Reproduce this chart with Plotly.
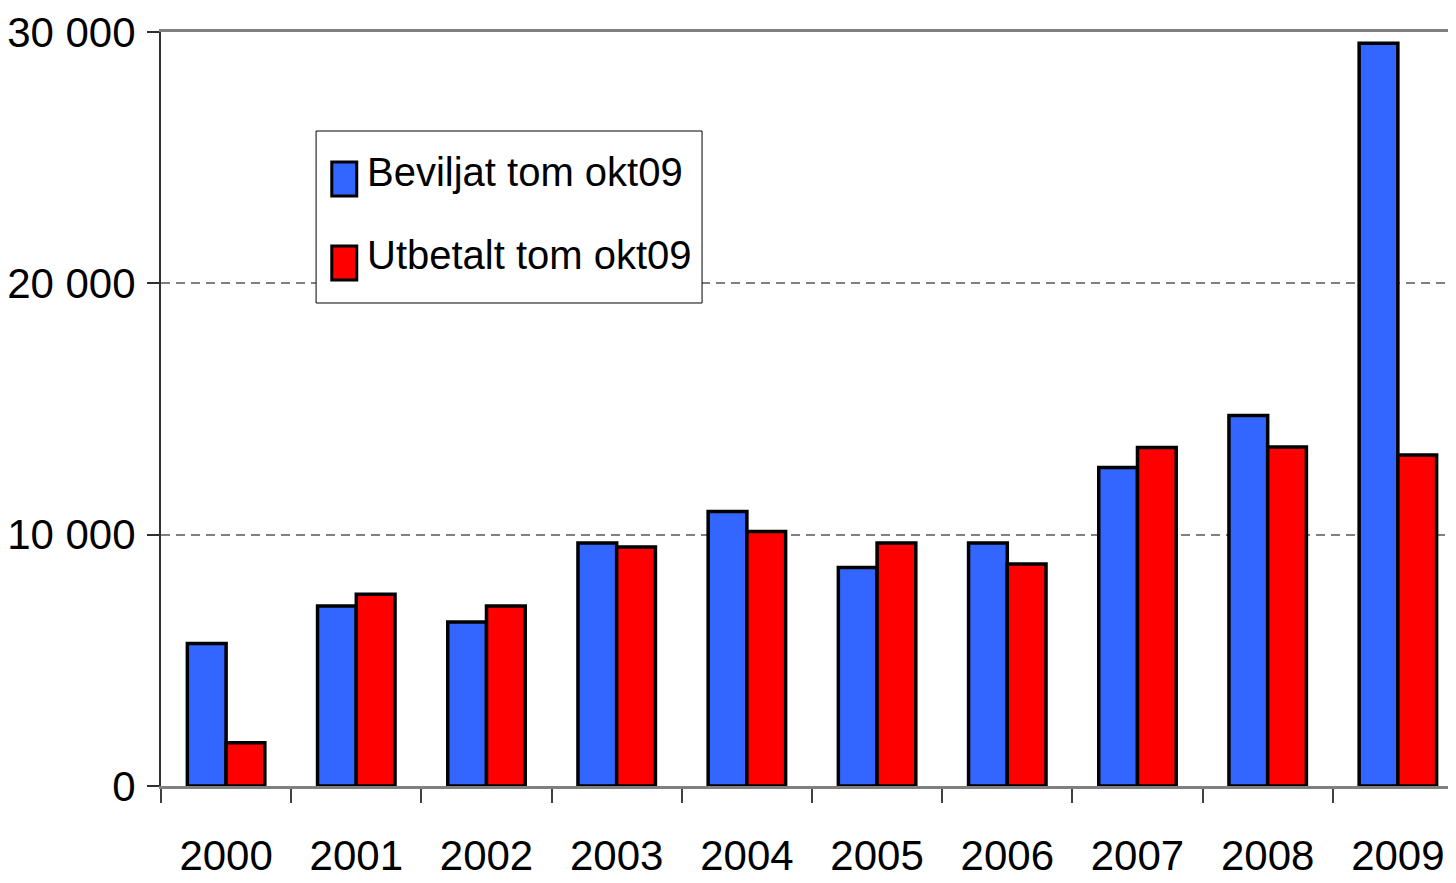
import plotly.graph_objects as go

years = ["2000", "2001", "2002", "2003", "2004", "2005", "2006", "2007", "2008", "2009"]
beviljat = [5670, 7160, 6530, 9670, 10920, 8690, 9670, 12670, 14740, 29550]
utbetalt = [1720, 7630, 7160, 9510, 10130, 9670, 8830, 13470, 13490, 13170]
series_names = ["Beviljat tom okt09", "Utbetalt tom okt09"]
y_ticks = [0, 10000, 20000, 30000]

FONT = "Liberation Sans, Arial, sans-serif"
FS = 42
LFS = 40
BLUE = "#3366FF"
RED = "#FF0000"

fig = go.Figure()
fig.add_trace(go.Bar(x=years, y=beviljat, name=series_names[0],
                     marker=dict(color=BLUE, line=dict(color="black", width=3.5))))
fig.add_trace(go.Bar(x=years, y=utbetalt, name=series_names[1],
                     marker=dict(color=RED, line=dict(color="black", width=3.5))))

# page body has an 8px margin, so the figure is sized/offset to compensate
fig.update_layout(
    width=1440, height=867,
    margin=dict(l=153, r=0, t=24, b=89),
    paper_bgcolor="white", plot_bgcolor="white",
    barmode="group", bargap=0.405, bargroupgap=0,
    showlegend=False,
    separators=", ",
    font=dict(family=FONT, size=FS, color="black"),
)
fig.update_xaxes(
    type="category", automargin=False, range=[-0.5, 9.385],
    showline=True, linecolor="#808080", linewidth=3, mirror=True,
    ticks="outside", tickson="boundaries", ticklen=14, tickcolor="#404040", tickwidth=2,
    ticklabelstandoff=31,
    showgrid=False,
    tickfont=dict(family=FONT, size=FS, color="black"),
)
fig.update_yaxes(
    range=[0, 30000], tickvals=y_ticks, tickformat=",d", automargin=False,
    showline=True, linecolor="#303030", linewidth=2,
    ticks="outside", ticklen=12, tickcolor="#303030", tickwidth=2,
    ticklabelstandoff=3,
    showgrid=True, gridcolor="#808080", gridwidth=1.5, griddash="9px,6px",
    zeroline=False,
    tickfont=dict(family=FONT, size=FS, color="black"),
)

# custom legend box
fig.add_shape(type="rect", xref="paper", yref="paper",
              x0=0.1205, x1=0.4204, y0=0.6406, y1=0.8687,
              line=dict(color="black", width=1), fillcolor="white", layer="above")
fig.add_shape(type="rect", xref="paper", yref="paper",
              x0=0.1327, x1=0.1521, y0=0.7825, y1=0.8276,
              line=dict(color="black", width=3), fillcolor=BLUE, layer="above")
fig.add_shape(type="rect", xref="paper", yref="paper",
              x0=0.1327, x1=0.1521, y0=0.6711, y1=0.7162,
              line=dict(color="black", width=3), fillcolor=RED, layer="above")
fig.add_annotation(text=series_names[0], xref="paper", yref="paper",
                   x=0.1585, y=0.8143, xanchor="left", yanchor="middle",
                   showarrow=False, font=dict(family=FONT, size=LFS, color="black"))
fig.add_annotation(text=series_names[1], xref="paper", yref="paper",
                   x=0.1585, y=0.7042, xanchor="left", yanchor="middle",
                   showarrow=False, font=dict(family=FONT, size=LFS, color="black"))

fig.write_html("out.html")
